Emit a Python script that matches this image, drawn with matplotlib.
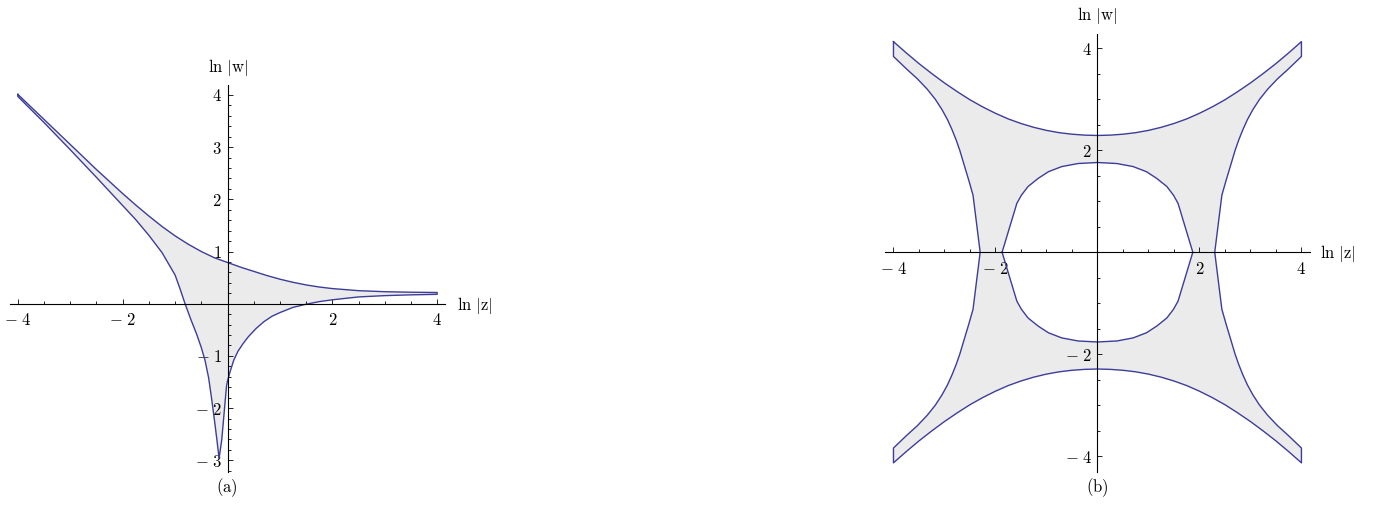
import matplotlib.pyplot as plt
import numpy as np
from matplotlib.ticker import MultipleLocator

plt.rcParams['mathtext.fontset'] = 'cm'
plt.rcParams['font.family'] = ['DejaVu Serif']

# (a) boundary curves
a_top_x = [-4.0, -3.5, -3.0, -2.5, -2.0, -1.75, -1.5, -1.25, -1.0, -0.75, -0.5, -0.25,
           0.0, 0.25, 0.5, 0.75, 1.0, 1.25, 1.5, 1.75, 2.0, 2.5, 3.0, 3.5, 4.0]
a_top_y = [4.01, 3.53, 3.05, 2.57, 2.11, 1.89, 1.68, 1.48, 1.30, 1.14, 1.00, 0.88,
           0.79, 0.70, 0.62, 0.54, 0.47, 0.41, 0.36, 0.32, 0.29, 0.25, 0.23, 0.22, 0.215]
# lower right branch, right end -> tip
a_br_x = [4.0, 3.5, 3.0, 2.5, 2.0, 1.75, 1.5, 1.25, 1.0, 0.85, 0.7, 0.55, 0.4, 0.3, 0.2,
          0.12, 0.05, 0.0, -0.02, -0.11, -0.16]
a_br_y = [0.18, 0.17, 0.155, 0.13, 0.075, 0.04, -0.01, -0.07, -0.17, -0.24, -0.34, -0.47, -0.63,
          -0.76, -0.91, -1.08, -1.30, -1.48, -1.59, -2.61, -2.96]
# lower left branch, tip -> left end
a_bl_x = [-0.16, -0.23, -0.30, -0.36, -0.43, -0.5, -0.59, -0.7, -0.81, -0.9, -1.0,
          -1.25, -1.5, -1.75, -2.0, -2.5, -3.0, -3.5, -4.0]
a_bl_y = [-2.96, -2.38, -1.84, -1.42, -1.08, -0.84, -0.58, -0.30, 0.0, 0.27, 0.55,
          0.98, 1.31, 1.61, 1.88, 2.42, 2.95, 3.47, 3.97]

# (b) one quadrant (upper left), the figure is symmetric
b_top_x = [-4.0, -3.75, -3.5, -3.25, -3.0, -2.75, -2.5, -2.25, -2.0, -1.75, -1.5, -1.25,
           -1.0, -0.75, -0.5, -0.25, 0.0]
b_top_y = [4.13, 3.91, 3.70, 3.505, 3.32, 3.15, 2.99, 2.85, 2.725, 2.615, 2.525, 2.45,
           2.39, 2.345, 2.315, 2.297, 2.29]
b_side_x = [-4.0, -3.75, -3.53, -3.34, -3.18, -3.05, -2.94, -2.85, -2.77, -2.70, -2.64,
            -2.58, -2.52, -2.44, -2.30]
b_side_y = [3.84, 3.6, 3.4, 3.2, 3.0, 2.8, 2.6, 2.4, 2.2, 2.0, 1.8,
            1.6, 1.4, 1.12, 0.0]
b_in_x = [-1.87, -1.58, -1.49, -1.36, -1.16, -0.96, -0.70, -0.38, 0.0]
b_in_y = [0.0, 0.96, 1.12, 1.29, 1.45, 1.58, 1.68, 1.74, 1.76]

line_col = '#3d3d99'
fill_col = '#ebebeb'
W, H = 1373, 508

fig = plt.figure(figsize=(W / 100, H / 100), dpi=100)
axa = fig.add_axes([10 / W, 1 - 471.8 / H, 435 / W, 386.8 / H])
axb = fig.add_axes([884.8 / W, 1 - 471.5 / H, 425.3 / W, 438 / H])
axa.set_xlim(-4.15, 4.15)
axa.set_ylim(-3.22, 4.19)
axb.set_xlim(-4.17, 4.17)
axb.set_ylim(-4.30, 4.29)

# (a)
ax_x = np.concatenate([a_top_x, a_br_x, a_bl_x])
ax_y = np.concatenate([a_top_y, a_br_y, a_bl_y])
axa.fill(ax_x, ax_y, color=fill_col, lw=0, zorder=1)
axa.plot(np.append(ax_x, ax_x[0]), np.append(ax_y, ax_y[0]), color=line_col, lw=1.0, zorder=2)

# (b) build the outer loop and the hole from the quadrant
tx, ty = np.array(b_top_x), np.array(b_top_y)
sx, sy = np.array(b_side_x), np.array(b_side_y)
ix, iy = np.array(b_in_x), np.array(b_in_y)
top_x = np.concatenate([tx, -tx[::-1][1:]])
top_y = np.concatenate([ty, ty[::-1][1:]])
out_x = np.concatenate([top_x, -sx, -sx[::-1][1:], top_x[::-1], sx, sx[::-1][1:], [top_x[0]]])
out_y = np.concatenate([top_y, sy, -sy[::-1][1:], -top_y[::-1], -sy, sy[::-1][1:], [top_y[0]]])
up_x = np.concatenate([ix, -ix[::-1][1:]])
up_y = np.concatenate([iy, iy[::-1][1:]])
in_x = np.concatenate([up_x, up_x[::-1][1:]])
in_y = np.concatenate([up_y, -up_y[::-1][1:]])
axb.fill(out_x, out_y, color=fill_col, lw=0, zorder=1)
axb.fill(in_x, in_y, color='white', lw=0, zorder=1)
axb.plot(out_x, out_y, color=line_col, lw=1.0, zorder=2)
axb.plot(in_x, in_y, color=line_col, lw=1.0, zorder=2)


def lab(v):
    return r'$-\;%d$' % abs(v) if v < 0 else r'$%d$' % v


def style(ax, xt, yt, ymin):
    ax.patch.set_visible(False)
    for s in ['top', 'right']:
        ax.spines[s].set_visible(False)
    for s in ['left', 'bottom']:
        ax.spines[s].set_position(('data', 0))
        ax.spines[s].set_linewidth(0.8)
    ax.set_xticks(xt)
    ax.set_xticklabels([lab(v) for v in xt])
    ax.set_yticks(yt)
    ax.set_yticklabels([lab(v) for v in yt])
    ax.xaxis.set_minor_locator(MultipleLocator(0.5))
    ax.yaxis.set_minor_locator(MultipleLocator(ymin))
    ax.tick_params(which='both', direction='in', width=0.6, labelsize=12)
    ax.tick_params(which='major', length=3.5)
    ax.tick_params(which='minor', length=2)
    ax.tick_params(axis='x', pad=6)
    ax.tick_params(axis='y', pad=4)


style(axa, [-4, -2, 2, 4], [-3, -2, -1, 1, 2, 3, 4], 0.2)
style(axb, [-4, -2, 2, 4], [-4, -2, 2, 4], 0.5)

fs = 12
fig.text(228 / W, 1 - 68 / H, r'$\mathrm{ln}\ |\mathrm{w}|$', ha='center', va='center', fontsize=fs)
fig.text(457 / W, 1 - 305 / H, r'$\mathrm{ln}\ |\mathrm{z}|$', ha='left', va='center', fontsize=fs)
fig.text(1097 / W, 1 - 16 / H, r'$\mathrm{ln}\ |\mathrm{w}|$', ha='center', va='center', fontsize=fs)
fig.text(1320 / W, 1 - 253 / H, r'$\mathrm{ln}\ |\mathrm{z}|$', ha='left', va='center', fontsize=fs)
fig.text(227 / W, 1 - 488 / H, r'$\mathrm{(a)}$', ha='center', va='center', fontsize=fs)
fig.text(1097 / W, 1 - 488 / H, r'$\mathrm{(b)}$', ha='center', va='center', fontsize=fs)

fig.savefig('out.png', dpi=100)
